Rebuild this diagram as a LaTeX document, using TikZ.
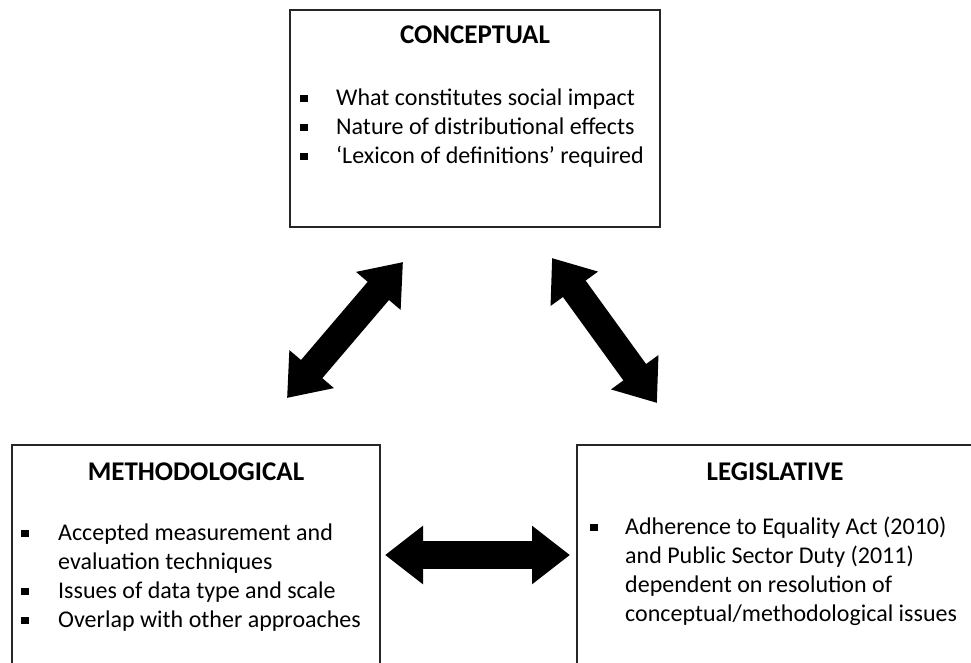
\documentclass[tikz,border=0pt]{standalone}
\usepackage{fontspec}
\setmainfont{Carlito}
\usetikzlibrary{arrows.meta}
\newcommand{\sqbullet}{\raisebox{3pt}{\rule{7.5pt}{7.5pt}}}
\begin{document}
\begin{tikzpicture}[x=1pt,y=-1pt,
    box/.style={draw=black!85, line width=1.5pt, inner sep=0pt},
    heading/.style={font=\fontsize{27}{32}\selectfont\bfseries, anchor=base, inner sep=0pt},
    points/.style={font=\fontsize{24}{29}\selectfont, anchor=base west, inner sep=0pt},
    bigarrow/.style={line width=28pt, {Triangle[length=38pt 0,width=56pt 0]}-{Triangle[length=38pt 0,width=56pt 0]}}]
    \useasboundingbox (0,0) rectangle (971,662);

% the three boxes
\node[box, minimum width=370pt, minimum height=217pt] (concept) at (475,118.5) {};
\node[box, minimum width=368pt, minimum height=260pt] (method) at (196,575) {};
\node[box, minimum width=404pt, minimum height=260pt] (legal) at (779,575) {};

\node[heading] (concepttitle) at (475,43) {CONCEPTUAL};
\node[heading] (methodtitle) at (196,480) {METHODOLOGICAL};
\node[heading] (legaltitle) at (775,480) {LEGISLATIVE};

\node[points] (conceptlist) at (300,105) {\begin{tabular}[t]{@{}p{36pt}@{}l@{}}
  \sqbullet & What constitutes social impact\\
  \sqbullet & Nature of distributional effects\\
  \sqbullet & `Lexicon of definitions' required
\end{tabular}};

\node[points] (methodlist) at (21,540) {\begin{tabular}[t]{@{}p{37pt}@{}l@{}}
  \sqbullet & Accepted measurement and\\
            & evaluation techniques\\
  \sqbullet & Issues of data type and scale\\
  \sqbullet & Overlap with other approaches
\end{tabular}};

\node[points] (legallist) at (590,534) {\begin{tabular}[t]{@{}p{35pt}@{}l@{}}
  \sqbullet & Adherence to Equality Act (2010)\\
            & and Public Sector Duty (2011)\\
            & dependent on resolution of\\
            & conceptual/methodological issues
\end{tabular}};

% arrow ends
\coordinate (cm1) at (403,262);
\coordinate (cm2) at (287,398);
\coordinate (cl1) at (552,258);
\coordinate (cl2) at (657,403);
\coordinate (ml1) at (385,555);
\coordinate (ml2) at (570,555);

\draw[bigarrow] (cm1) -- (cm2);
\draw[bigarrow] (cl1) -- (cl2);
\draw[bigarrow] (ml1) -- (ml2);

\end{tikzpicture}
\end{document}
